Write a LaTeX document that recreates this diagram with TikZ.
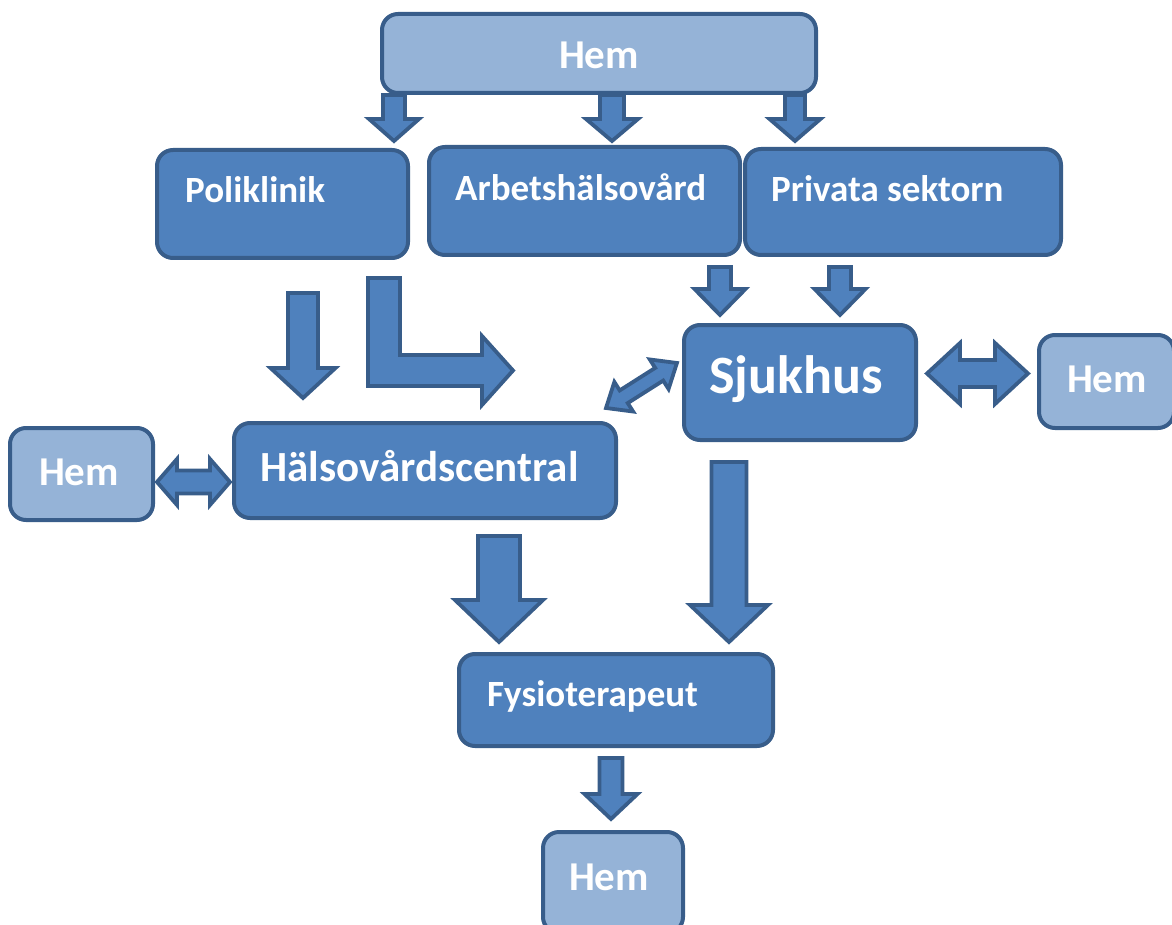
\documentclass[tikz,border=0pt]{standalone}
\usepackage{fontspec}
\setmainfont{Carlito}
\definecolor{boxfill}{HTML}{4F81BD}
\definecolor{boxline}{HTML}{385D8A}
\definecolor{lightfill}{HTML}{95B3D7}
% #1 cx, #2 top, #3 head y, #4 tip y, #5 shaft half, #6 head half
\newcommand{\blkdown}[6]{%
  \draw[arr] ({#1-#5},#2) -- ({#1+#5},#2) -- ({#1+#5},#3) -- ({#1+#6},#3) -- (#1,#4) -- ({#1-#6},#3) -- ({#1-#5},#3) -- cycle;}
% #1 start, #2 angle, #3 length, #4 head length, #5 head half, #6 shaft half
\newcommand{\blkdouble}[6]{%
  \begin{scope}[shift={#1}, rotate=#2]
  \draw[arr] (0,0) -- (#4,#5) -- (#4,#6) -- ({#3-#4},#6) -- ({#3-#4},#5) -- (#3,0) -- ({#3-#4},-#5) -- ({#3-#4},-#6) -- (#4,-#6) -- (#4,-#5) -- cycle;
  \end{scope}}
\begin{document}
\begin{tikzpicture}[x=1pt,y=-1pt,
  box/.style={draw=boxline, fill=boxfill, line width=4pt, rounded corners=16pt, inner sep=0pt, outer sep=0pt},
  lbox/.style={box, fill=lightfill},
  lbl/.style={text=white, font=\fontsize{37}{40}\selectfont\bfseries, inner sep=0pt, anchor=base west},
  hemlbl/.style={lbl, anchor=base, font=\fontsize{41}{44}\selectfont\bfseries},
  arr/.style={draw=boxline, fill=boxfill, line width=3.8pt, line join=miter},
]
\useasboundingbox (0,0) rectangle (1172,925);
\clip (0,0) rectangle (1172,925);

% arrows
\blkdown{394}{95}{119}{141}{11}{25}
\blkdown{612}{95}{119}{141}{12}{26}
\blkdown{795}{95}{119}{141}{10}{25.5}
\blkdown{303}{293}{368}{398}{15}{32.5}
\blkdown{720}{267}{289}{315}{11}{25.5}
\blkdown{840}{267}{289}{315}{11}{25.5}
\blkdown{499}{536}{600}{642}{21}{44}
\blkdown{729}{462}{605}{642}{17.5}{39}
\blkdown{611}{758}{794}{819}{11.5}{26.5}
\draw[arr] (368,278) -- (400,278) -- (400,355) -- (482,355) -- (482,336) -- (513,370.5) -- (482,405) -- (482,386) -- (368,386) -- cycle;
\blkdouble{(927,373.5)}{0}{101}{33}{30.5}{13.5}
\blkdouble{(157,482)}{0}{73}{20}{23}{11.5}
\blkdouble{(606,408)}{32.4}{84}{21}{17.5}{7.5}

% boxes
\node[lbox, minimum width=434pt, minimum height=79pt] (hemtop) at (599,53.5) {};
\node[box, minimum width=251pt, minimum height=108pt] (polikl) at (282.5,204) {};
\node[box, minimum width=311pt, minimum height=108pt] (arbets) at (584.5,201) {};
\node[box, minimum width=316pt, minimum height=106pt] (privata) at (903,202) {};
\node[box, minimum width=232pt, minimum height=115pt] (sjukhus) at (800,382.5) {};
\node[lbox, minimum width=135pt, minimum height=93pt] (hemr) at (1106.5,381.5) {};
\node[box, minimum width=382pt, minimum height=95pt] (halso) at (425,470.5) {};
\node[lbox, minimum width=143pt, minimum height=92pt] (heml) at (81.5,474) {};
\node[box, minimum width=314pt, minimum height=92pt] (fysio) at (616,700) {};
\node[lbox, minimum width=140pt, minimum height=101pt] (hemb) at (613,882.5) {};

% texts
\node[hemlbl] (t-hemtop) at (599,69) {Hem};
\node[lbl] (t-polikl) at (185,203) {Poliklinik};
\node[lbl] (t-arbets) at (455,201) {Arbetshälsovård};
\node[lbl] (t-privata) at (771,202) {Privata sektorn};
\node[lbl, anchor=base, font=\fontsize{54}{58}\selectfont\bfseries] (t-sjukhus) at (796,393) {Sjukhus};
\node[hemlbl] (t-hemr) at (1107,392) {Hem};
\node[lbl, font=\fontsize{43}{46}\selectfont\bfseries] (t-halso) at (260,481) {Hälsovårdscentral};
\node[hemlbl] (t-heml) at (79,485) {Hem};
\node[lbl] (t-fysio) at (487,706) {Fysioterapeut};
\node[hemlbl] (t-hemb) at (609,890) {Hem};
\end{tikzpicture}
\end{document}
